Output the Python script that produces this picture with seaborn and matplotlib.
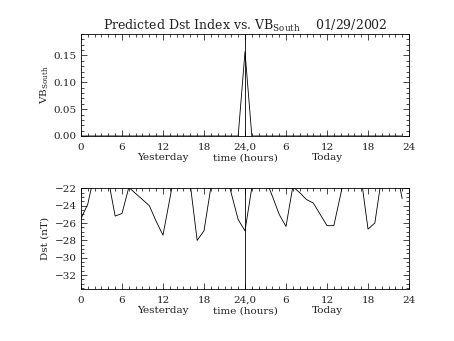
import numpy as np
import pandas as pd
import matplotlib
matplotlib.use("Agg")
import matplotlib.pyplot as plt
import seaborn as sns
from matplotlib.ticker import MultipleLocator, FixedLocator

# ---- data (hours 0..47 across yesterday and today) ----
hours = list(range(48))
vb_south = [0.0] * 23 + [0.0, 0.157, 0.0] + [0.0] * 22
dst = [-25.5, -23.8, -20.2, -19.0, -21.0, -25.2, -24.9, -21.9, -22.6, -23.3,
       -24.0, -25.8, -27.4, -23.2, -19.0, -19.0, -21.6, -28.0, -26.9, -21.9,
       -19.0, -19.6, -22.6, -25.6, -26.9, -21.9, -19.0, -20.9, -22.9, -25.0,
       -26.4, -21.8, -22.5, -23.3, -23.7, -25.0, -26.3, -26.3, -22.7, -19.0,
       -19.0, -20.8, -26.7, -26.0, -20.7, -19.0, -19.2, -23.2]
xtick_pos = [0, 6, 12, 18, 24, 30, 36, 42, 48]
xtick_labels = ["0", "6", "12", "18", "24,0", "6", "12", "18", "24"]
vb_ticks = [0.00, 0.05, 0.10, 0.15]
dst_ticks = [-32, -30, -28, -26, -24, -22]
title = "Predicted Dst Index vs. VB$_{\\mathregular{South}}$    01/29/2002"

df = pd.DataFrame({"hour": hours, "vb": vb_south, "dst": dst})

sns.set_theme(style="ticks")
plt.rcParams["font.family"] = ["DejaVu Serif"]
plt.rcParams["mathtext.fontset"] = "dejavuserif"
plt.rcParams["axes.linewidth"] = 0.6

fig = plt.figure(figsize=(4.54, 3.41), dpi=100)
ax1 = fig.add_axes([0.1784, 0.6012, 0.7225, 0.2991])
ax2 = fig.add_axes([0.1784, 0.1525, 0.7225, 0.2953])

fs = 7.5
tc = "#222222"
for ax in (ax1, ax2):
    ax.set_xlim(0, 48)
    ax.xaxis.set_major_locator(FixedLocator(xtick_pos))
    ax.set_xticklabels(xtick_labels, fontsize=fs)
    ax.xaxis.set_minor_locator(MultipleLocator(1))
    ax.tick_params(which="both", direction="in", top=True, right=True,
                   color="black", width=0.5, labelsize=fs, labelcolor=tc)
    ax.tick_params(axis="x", which="major", pad=5)
    ax.tick_params(axis="y", which="major", pad=3)
    ax.tick_params(which="major", length=4)
    ax.tick_params(which="minor", length=2)
    ax.axvline(24, color="black", lw=0.6)
    for s in ax.spines.values():
        s.set_color("black")
        s.set_linewidth(0.6)
    for xpos, txt in ((12, "Yesterday"), (24, "time (hours)"), (36, "Today")):
        ax.text(xpos, -0.17, txt, transform=ax.get_xaxis_transform(),
                ha="center", va="top", fontsize=fs, color=tc)

sns.lineplot(data=df, x="hour", y="vb", ax=ax1, color="black", lw=0.6)
ax1.set_ylim(0, 0.19)
ax1.yaxis.set_major_locator(FixedLocator(vb_ticks))
ax1.set_yticklabels([f"{v:.2f}" for v in vb_ticks], fontsize=fs)
ax1.yaxis.set_minor_locator(MultipleLocator(0.01))
ax1.set_xlabel("")
ax1.set_ylabel("VB$_{\\mathregular{South}}$", fontsize=fs, labelpad=2, color=tc)
ax1.set_title(title, fontsize=9, pad=3, color=tc)

sns.lineplot(data=df, x="hour", y="dst", ax=ax2, color="black", lw=0.6)
ax2.set_ylim(-33.6, -22)
ax2.yaxis.set_major_locator(FixedLocator(dst_ticks))
ax2.set_yticklabels([f"\u2212{abs(v)}" for v in dst_ticks], fontsize=fs)
ax2.yaxis.set_minor_locator(MultipleLocator(0.5))
ax2.set_xlabel("")
ax2.set_ylabel("Dst (nT)", fontsize=fs, labelpad=4, color=tc)

fig.savefig("out.png", dpi=100)
